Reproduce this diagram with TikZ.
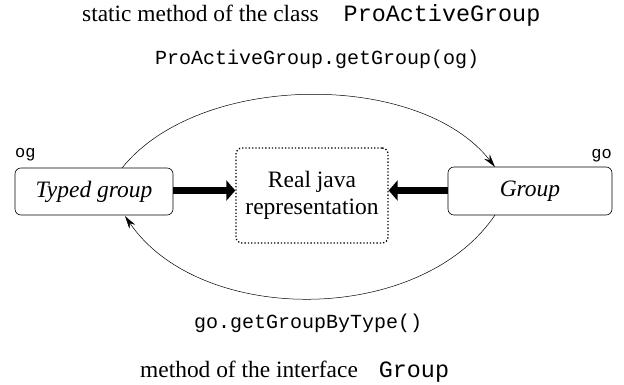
\documentclass[tikz,border=0pt]{standalone}
\usepackage{fontspec}
\setmainfont{Liberation Serif}
\setmonofont{Liberation Mono}
\usetikzlibrary{arrows.meta}
\begin{document}
\begin{tikzpicture}[x=1pt,y=-1pt,
  gbox/.style={draw,rounded corners=6pt,line width=0.6pt,inner sep=0pt,font=\fontsize{23.5}{27}\selectfont\itshape},
  thickarrow/.style={line width=7pt,-{Triangle[length=9pt,width=20pt]}},
  thinarrow/.style={line width=0.5pt,-{Stealth[length=13pt,width=7pt]}},
  lbl/.style={inner sep=0pt,font=\fontsize{23.4}{27}\selectfont},
  code/.style={inner sep=0pt,font=\fontsize{20}{24}\selectfont\ttfamily},
  tag/.style={inner sep=0pt,font=\fontsize{17}{20}\selectfont\ttfamily}]
\useasboundingbox (0,0) rectangle (624,385);
\node[gbox,minimum width=158pt,minimum height=47pt] (tg) at (94,191.5) {Typed group};
\node[gbox,minimum width=164pt,minimum height=48pt] (g) at (530,191) {Group};
\node[draw,dotted,line width=1.3pt,rounded corners=6pt,minimum width=152pt,minimum height=95pt,align=center,font=\fontsize{23.5}{27}\selectfont] (rj) at (312,195.5) {Real java\\representation};
\node[tag,anchor=base west] (og) at (15,158) {og};
\node[tag,anchor=base east] (go) at (612,159) {go};
\draw[thickarrow] (tg.east |- 0,190.5) -- (rj.west |- 0,190.5);
\draw[thickarrow] (g.west |- 0,190.5) -- (rj.east |- 0,190.5);
\coordinate (a1) at (122,168);
\coordinate (a2) at (495,167);
\coordinate (b1) at (495,215);
\coordinate (b2) at (125,216);
\draw[thinarrow] (a1) .. controls (200,71) and (420,71) .. (a2);
\draw[thinarrow] (b1) .. controls (420,326) and (200,326) .. (b2);
\node[code,anchor=base west] (t1) at (155,65) {ProActiveGroup.getGroup(og)};
\node[code,anchor=base west] (t2) at (194,328) {go.getGroupByType()};
\node[lbl,anchor=base west] (s1) at (82,22) {static method of the class\hspace{25pt}\texttt{ProActiveGroup}};
\node[lbl,anchor=base west] (s2) at (140,377) {method of the interface\hspace{21pt}\texttt{Group}};
\end{tikzpicture}
\end{document}
